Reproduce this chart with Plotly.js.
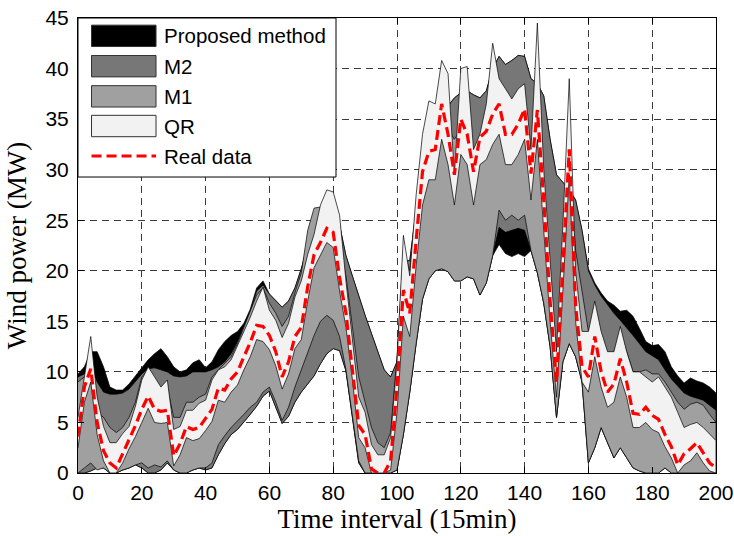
<!DOCTYPE html>
<html>
<head>
<meta charset="utf-8">
<script src="https://cdn.plot.ly/plotly-3.0.1.min.js"></script>
<style>html,body{margin:0;padding:0;background:#fff;}#chart{width:734px;height:536px;}</style>
</head>
<body>
<div id="chart"></div>
<script>
// time index (15-min intervals), sampled every 2 steps
const timeIdx = Array.from({length: 101}, (_, i) => 2 * i);

const realData = [3.6, 8.5, 10.3, 5.0, 2.2, 1.0, 0.5, 1.9, 3.4, 4.7,
  6.3, 7.6, 6.3, 6.1, 6.2, 1.7, 2.9, 4.6, 4.3, 4.5,
  5.4, 6.3, 8.4, 8.2, 9.3, 10.0, 11.5, 12.9, 14.6, 14.5,
  13.6, 12.0, 9.5, 11.0, 13.5, 14.4, 18.4, 21.6, 22.8, 24.2,
  23.8, 19.3, 15.8, 10.5, 4.7, 3.8, 0.4, 0.0, 0.0, 1.2,
  8.5, 18.1, 15.8, 23.0, 29.8, 31.8, 32.0, 36.5, 33.5, 29.5,
  35.0, 33.5, 29.8, 33.2, 33.8, 35.5, 36.5, 33.5, 33.5, 34.5,
  36.0, 29.6, 35.9, 27.0, 17.0, 9.0, 20.0, 32.0, 16.5, 10.5,
  9.5, 13.5, 10.0, 8.0, 8.8, 11.3, 9.0, 5.9, 5.8, 6.5,
  5.7, 5.3, 3.8, 2.6, 0.8, 1.9, 2.4, 3.0, 2.0, 1.0,
  0.5];

const qrUpper = [5.5, 9.5, 13.5, 7.5, 4.6, 3.0, 3.0, 3.9, 4.6, 6.6,
  9.2, 10.5, 9.5, 8.5, 9.2, 4.3, 4.6, 6.2, 6.2, 6.9,
  7.2, 9.2, 10.2, 10.5, 11.2, 12.6, 14.1, 15.4, 17.0, 18.4,
  16.1, 15.1, 13.4, 14.8, 17.4, 19.0, 21.6, 23.6, 26.5, 28.0,
  27.8, 25.5, 19.0, 13.0, 7.5, 6.0, 2.8, 1.8, 1.8, 3.5,
  11.0, 23.5, 19.5, 27.5, 33.5, 36.8, 36.5, 40.8, 39.5, 29.5,
  40.0, 40.2, 32.0, 33.5, 36.5, 42.5, 39.0, 38.0, 37.0, 38.0,
  38.5, 32.0, 44.5, 30.0, 21.0, 12.0, 24.5, 39.0, 20.0, 14.0,
  14.0, 17.0, 14.0, 12.0, 12.0, 14.5, 12.0, 10.0, 10.0, 9.5,
  9.0, 9.5, 8.5, 7.5, 6.0, 4.5, 4.8, 5.0, 4.5, 3.8,
  3.2];
const qrLower = [2.5, 7.0, 9.0, 3.8, 1.2, 0, 0, 1.0, 2.4, 3.6,
  5.0, 6.4, 5.0, 4.9, 5.0, 0.7, 1.8, 3.5, 3.2, 3.4,
  4.2, 5.1, 7.2, 7.0, 8.0, 8.7, 10.2, 11.5, 13.2, 13.0,
  12.2, 10.6, 8.3, 9.8, 12.3, 13.2, 17.0, 20.3, 21.6, 22.8,
  22.3, 18.0, 14.4, 9.3, 3.5, 2.5, 0, 0, 0, 0.3,
  6.0, 15.5, 13.5, 20.5, 26.5, 29.0, 29.0, 33.0, 30.5, 26.5,
  31.5, 30.5, 26.5, 30.5, 31.0, 32.5, 33.5, 30.5, 30.5, 31.5,
  33.0, 27.0, 33.0, 24.5, 15.0, 7.5, 18.0, 29.5, 15.0, 9.0,
  8.0, 11.5, 8.5, 6.5, 7.0, 9.5, 7.5, 4.5, 4.5, 5.0,
  4.3, 4.0, 2.6, 1.5, 0, 0.8, 1.2, 2.0, 1.0, 0.2,
  0];

const m1Upper = [9.0, 9.5, 9.0, 6.0, 5.5, 4.5, 4.0, 4.5, 5.5, 7.0,
  9.5, 10.2, 8.8, 8.0, 8.5, 5.5, 5.5, 7.0, 7.0, 7.5,
  7.8, 9.5, 10.2, 10.8, 11.5, 12.8, 14.4, 15.8, 17.6, 18.3,
  16.8, 15.8, 14.5, 15.5, 17.8, 19.8, 24.0, 26.2, 26.3, 25.0,
  25.0, 22.5, 19.5, 14.5, 9.5, 7.0, 4.5, 3.0, 2.5, 4.0,
  11.5, 22.0, 20.0, 26.0, 31.0, 33.0, 34.0, 34.5, 34.0, 33.0,
  34.0, 33.0, 30.0, 31.0, 33.5, 34.0, 34.5, 33.0, 32.5, 33.0,
  34.0, 30.0, 33.0, 27.0, 19.0, 10.0, 21.0, 31.0, 22.0, 18.0,
  14.0, 16.0, 13.0, 11.5, 12.0, 13.5, 12.0, 10.0, 10.0, 10.2,
  9.8, 9.8, 9.0, 8.0, 7.0, 6.3, 6.8, 7.0, 6.7, 5.8,
  5.0];
const m1Lower = [0, 0.5, 1.0, 0.3, 0.5, 0, 0, 0.3, 0.5, 0.8,
  1.0, 0.5, 0.8, 0.6, 1.2, 0.3, 0, 0, 0.3, 0.5,
  0.5, 1.0, 2.8, 3.7, 4.5, 5.2, 5.8, 6.5, 7.0, 8.0,
  8.5, 7.0, 5.2, 6.5, 8.5, 10.2, 12.0, 13.6, 15.0, 15.6,
  15.1, 13.5, 10.2, 5.8, 1.2, 0, 0, 0, 0, 0,
  0.3, 3.8, 8.0, 12.8, 17.2, 19.2, 20.0, 20.2, 19.9, 19.0,
  19.0, 19.4, 19.2, 17.6, 18.8, 21.5, 26.0, 25.0, 25.5, 25.0,
  25.5, 22.0, 19.8, 16.8, 12.5, 5.5, 11.0, 12.8, 11.5, 9.0,
  1.0, 2.5, 4.5, 3.0, 1.5, 2.5, 1.5, 0.5, 0.2, 0,
  0, 0, 0.5, 0, 0, 0, 0, 0, 0, 0,
  0];

const m2Upper = [9.5, 9.8, 10.5, 9.0, 8.0, 7.8, 7.8, 7.9, 8.3, 9.0,
  9.8, 10.3, 10.4, 10.2, 10.0, 9.6, 9.5, 9.6, 10.0, 10.0,
  10.0, 10.2, 10.5, 11.0, 11.8, 13.0, 14.6, 16.0, 18.0, 18.6,
  17.7, 17.0, 16.4, 17.0, 18.3, 20.2, 22.5, 24.5, 25.0, 26.0,
  26.5, 24.5, 21.5, 19.5, 17.5, 15.6, 13.8, 12.0, 10.2, 9.5,
  11.0, 21.0, 21.0, 26.0, 30.0, 32.0, 33.0, 34.5, 36.3, 37.1,
  37.6, 37.8, 37.4, 37.1, 37.8, 40.0, 41.2, 40.4, 40.8, 41.3,
  41.2, 39.0, 38.5, 37.3, 33.0, 29.5, 28.7, 28.0, 27.0, 24.0,
  20.0, 18.6, 17.5, 16.6, 15.8, 15.1, 14.4, 13.6, 12.8, 12.0,
  11.6, 11.2, 10.2, 9.3, 8.6, 7.9, 7.6, 7.4, 7.2, 6.7,
  6.2];
const m2Lower = [0, 0, 0.2, 0.5, 0.5, 0, 0, 0.3, 0.5, 0.8,
  0.5, 0, 0, 0.3, 1.0, 0.3, 0, 0, 0.3, 0.5,
  0.3, 0.5, 1.8, 2.9, 3.8, 4.3, 5.0, 5.8, 6.6, 7.6,
  8.1, 6.6, 4.9, 5.6, 7.0, 8.0, 8.8, 9.6, 10.8, 11.8,
  12.3, 12.1, 10.1, 5.6, 1.0, 0, 0, 0, 0, 0,
  0.3, 3.8, 8.0, 12.8, 17.2, 19.2, 20.0, 20.2, 19.9, 19.0,
  19.0, 19.4, 19.2, 17.6, 18.8, 21.5, 24.3, 23.8, 24.0, 24.2,
  24.0, 22.0, 19.8, 16.8, 12.5, 5.5, 11.0, 12.8, 11.5, 9.0,
  1.0, 2.5, 4.5, 3.0, 1.5, 2.5, 1.5, 0.5, 0.2, 0,
  0, 0, 0.5, 0, 0, 0, 0, 0, 0, 0,
  0];

const propUpper = [9.8, 10.5, 12.0, 12.0, 10.5, 8.5, 8.2, 8.2, 8.8, 9.6,
  10.5, 11.2, 11.8, 12.3, 11.5, 10.5, 10.0, 10.2, 10.9, 11.2,
  10.4, 11.0, 12.2, 13.0, 13.6, 14.0, 14.8, 16.2, 18.3, 19.0,
  17.7, 17.0, 16.4, 17.0, 18.3, 20.2, 22.5, 24.5, 25.0, 26.0,
  26.5, 24.5, 21.5, 19.5, 17.5, 15.6, 13.8, 12.0, 10.2, 9.5,
  11.0, 21.0, 21.0, 26.0, 30.0, 32.0, 33.0, 34.5, 36.3, 37.1,
  37.6, 37.8, 37.4, 37.1, 37.8, 40.0, 41.2, 40.4, 40.8, 41.3,
  41.2, 39.0, 38.5, 37.3, 33.0, 29.5, 28.7, 28.0, 27.0, 24.0,
  20.2, 18.8, 17.8, 17.0, 16.6, 16.0, 16.1, 15.5, 14.3, 13.0,
  12.6, 12.7, 12.0, 10.5, 9.6, 8.9, 9.4, 9.1, 8.9, 8.5,
  7.9];
const propLower = [0, 0, 0.2, 0.5, 0.5, 0, 0, 0.3, 0.5, 0.8,
  0.5, 0, 0, 0.3, 1.0, 0.3, 0, 0, 0.3, 0.5,
  0.3, 0.5, 1.8, 2.9, 3.8, 4.3, 5.0, 5.8, 6.6, 7.6,
  8.1, 6.6, 4.9, 5.6, 7.0, 8.0, 8.8, 9.6, 10.8, 11.8,
  12.3, 12.1, 10.1, 5.6, 1.0, 0, 0, 0, 0, 0,
  0.3, 3.8, 8.0, 12.8, 17.2, 19.2, 20.0, 20.2, 19.9, 19.0,
  19.0, 19.4, 19.2, 17.6, 18.8, 21.5, 22.6, 21.7, 21.4, 21.7,
  21.4, 22.0, 19.8, 16.8, 12.5, 5.5, 11.0, 12.8, 11.5, 9.0,
  1.0, 2.5, 4.5, 3.0, 1.5, 2.5, 1.5, 0.5, 0.2, 0,
  0, 0, 0.5, 0, 0, 0, 0, 0, 0, 0,
  0];

const seriesNames = ['Proposed method', 'M2', 'M1', 'QR', 'Real data'];
const bandColors = ['#000000', '#777777', '#a0a0a0', '#f2f2f2'];
const realColor = '#ff0000';

function band(upper, lower, color, name) {
  return {
    type: 'scatter', mode: 'lines', name: name,
    x: timeIdx.concat(timeIdx.slice().reverse()),
    y: upper.concat(lower.slice().reverse()),
    fill: 'toself', fillcolor: color,
    line: {color: '#000000', width: 0.7},
    hoverinfo: 'skip', showlegend: false
  };
}

const traces = [
  band(propUpper, propLower, bandColors[0], seriesNames[0]),
  band(m2Upper, m2Lower, bandColors[1], seriesNames[1]),
  band(m1Upper, m1Lower, bandColors[2], seriesNames[2]),
  band(qrUpper, qrLower, bandColors[3], seriesNames[3]),
  {type: 'scatter', mode: 'lines', name: seriesNames[4], x: timeIdx, y: realData,
   line: {color: realColor, width: 3.2, dash: '10px,5px'}, showlegend: false}
];

// custom legend (paper coords)
const L = {x0: 0, x1: 0.4044, y0: 0.6505, y1: 1.0};
const boxX0 = 0.0212, boxX1 = 0.1223;
const rows = [0.9608, 0.8941, 0.8278, 0.7626, 0.6967];
const boxH = 0.0235;
const shapes = [
  {type: 'rect', xref: 'paper', yref: 'paper', x0: L.x0, x1: L.x1, y0: L.y0, y1: L.y1,
   fillcolor: '#ffffff', line: {color: '#000000', width: 1}, layer: 'above'}
];
for (let i = 0; i < 4; i++) {
  shapes.push({type: 'rect', xref: 'paper', yref: 'paper', x0: boxX0, x1: boxX1,
    y0: rows[i] - boxH, y1: rows[i] + boxH, fillcolor: bandColors[i],
    line: {color: '#333333', width: 1}, layer: 'above'});
}
shapes.push({type: 'line', xref: 'paper', yref: 'paper', x0: boxX0, x1: boxX1,
  y0: rows[4], y1: rows[4], line: {color: realColor, width: 3.2, dash: '10px,5px'}, layer: 'above'});
const annotations = seriesNames.map((n, i) => ({
  xref: 'paper', yref: 'paper', x: 0.1317, y: rows[i], xanchor: 'left', yanchor: 'middle',
  text: n, showarrow: false, font: {family: 'Liberation Sans, Arial, sans-serif', size: 20.5, color: '#000'}
}));

const layout = {
  width: 734, height: 536,
  margin: {l: 78, r: 18, t: 18, b: 63},
  paper_bgcolor: '#ffffff', plot_bgcolor: '#ffffff',
  showlegend: false,
  font: {family: 'Liberation Sans, Arial, sans-serif', size: 21, color: '#000'},
  xaxis: {
    range: [0, 200], tick0: 0, dtick: 20, ticks: 'inside', ticklen: 6, tickcolor: '#000',
    showline: true, linecolor: '#000', linewidth: 1, mirror: 'ticks',
    showgrid: true, gridcolor: '#3a3a3a', gridwidth: 1, griddash: '7px,5px', zeroline: false,
    tickfont: {size: 21}, ticklabelstandoff: 1,
    title: {text: 'Time interval (15min)', font: {family: 'Liberation Serif, Times New Roman, serif', size: 27}, standoff: 4}
  },
  yaxis: {
    range: [0, 45], tick0: 0, dtick: 5, ticks: 'inside', ticklen: 6, tickcolor: '#000',
    showline: true, linecolor: '#000', linewidth: 1, mirror: 'ticks',
    showgrid: true, gridcolor: '#3a3a3a', gridwidth: 1, griddash: '7px,5px', zeroline: false,
    tickfont: {size: 21}, ticklabelstandoff: 4,
    title: {text: 'Wind power (MW)', font: {family: 'Liberation Serif, Times New Roman, serif', size: 27}, standoff: 10}
  },
  shapes: shapes,
  annotations: annotations
};

Plotly.newPlot('chart', traces, layout, {staticPlot: true, displayModeBar: false});
</script>
</body>
</html>
